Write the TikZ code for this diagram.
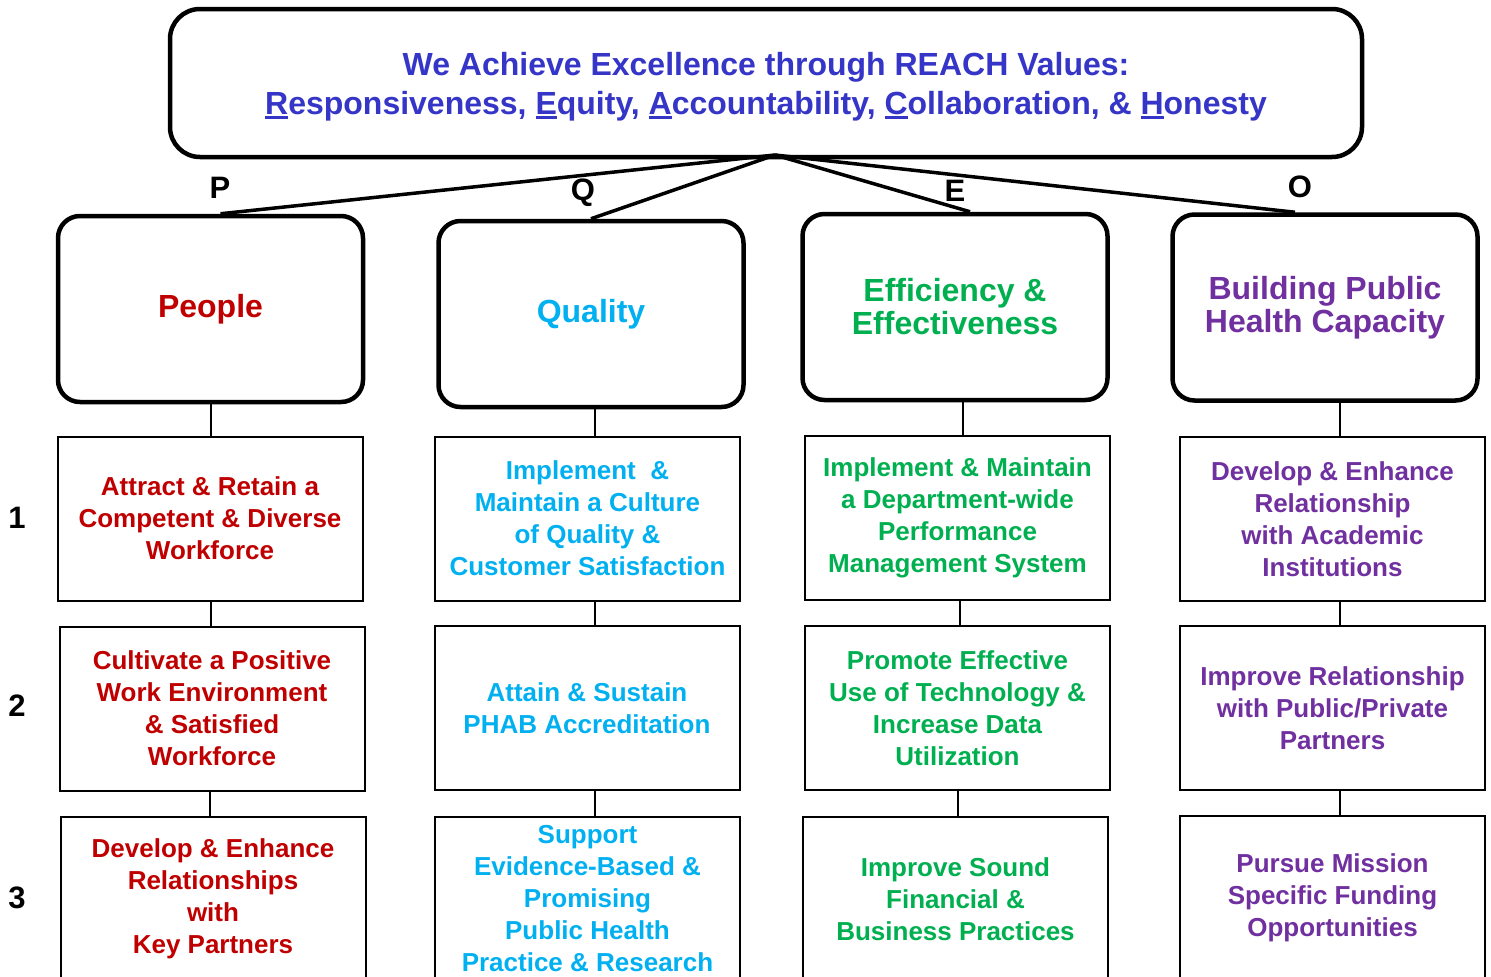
\documentclass[tikz,border=0pt]{standalone}
\usepackage{fontspec}
\setmainfont{Liberation Sans}
\definecolor{tblue}{HTML}{3535C8}
\definecolor{pred}{HTML}{C00000}
\definecolor{qcyan}{HTML}{00B0F0}
\definecolor{egreen}{HTML}{00B050}
\definecolor{opurple}{HTML}{7030A0}
\newcommand\myul[1]{\setbox0=\hbox{#1}\rlap{\rule[-4pt]{\wd0}{3pt}}\box0}
\begin{document}
\begin{tikzpicture}[x=1pt,y=-1pt,
  topbox/.style={draw, line width=4.5pt, rounded corners=30pt, minimum width=1192, minimum height=148},
  titletext/.style={font=\bfseries\fontsize{32}{39}\selectfont, text=tblue, align=center, inner sep=0pt},
  headbox/.style={draw, line width=4.5pt, rounded corners=22pt, minimum width=305, minimum height=186,
    font=\bfseries\fontsize{32}{33}\selectfont, align=center},
  goalbox/.style={draw, line width=2pt, minimum width=305, minimum height=164,
    font=\bfseries\fontsize{26}{32}\selectfont, align=center, inner sep=2pt},
  lbl/.style={font=\bfseries\fontsize{31}{31}\selectfont, inner sep=0pt},
  conn/.style={line width=3.5pt},
  vconn/.style={line width=2pt}
]
\useasboundingbox (0,0) rectangle (1491,977);
\fill[white] (0,0) rectangle (1491,977);

% top box
\node[topbox] (top) at (766,83) {};
\node[titletext] (title) at (766,87) {We Achieve Excellence through REACH Values:\\
\myul{R}esponsiveness, \myul{E}quity, \myul{A}ccountability, \myul{C}ollaboration, \& \myul{H}onesty};
\coordinate (apex) at (775,155);

% header boxes
\node[headbox, text=pred] (hP) at (210.5,309) {People};
\node[headbox, text=qcyan] (hQ) at (591,314) {Quality};
\node[headbox, text=egreen] (hE) at (955,307) {Efficiency \&\\Effectiveness};
\node[headbox, text=opurple] (hO) at (1325,307.5) {Building Public\\Health Capacity};

% letter labels
\node[lbl] (lP) at (220,188) {P};
\node[lbl] (lQ) at (583,193) {Q};
\node[lbl] (lE) at (955,191) {E};
\node[lbl] (lO) at (1300,187) {O};

% connectors from top
\draw[conn] (apex) -- ([xshift=10pt]hP.north);
\draw[conn] (apex) -- (hQ.north);
\draw[conn] (apex) -- ([xshift=15pt]hE.north);
\draw[conn] (apex) -- ([xshift=-30pt]hO.north);

% row numbers
\node[lbl] (n1) at (17,518) {1};
\node[lbl] (n2) at (17,706) {2};
\node[lbl] (n3) at (17,898) {3};

% column P
\node[goalbox, text=pred] (p1) at (210,518.5) {Attract \& Retain a\\Competent \& Diverse\\Workforce};
\node[goalbox, text=pred] (p2) at (212,708.5) {Cultivate a Positive\\Work Environment\\\& Satisfied\\Workforce};
\node[goalbox, text=pred] (p3) at (213,899) {Develop \& Enhance\\Relationships\\with\\Key Partners};

% column Q
\node[goalbox, text=qcyan] (q1) at (587.5,518.5) {Implement \ \&\\Maintain a Culture\\of Quality \&\\Customer Satisfaction};
\node[goalbox, text=qcyan] (q2) at (587,708) {Attain \& Sustain\\PHAB Accreditation};
\node[goalbox, text=qcyan] (q3) at (587.5,899) {Support\\Evidence-Based \&\\Promising\\Public Health\\Practice \& Research};

% column E
\node[goalbox, text=egreen] (e1) at (957.5,518) {Implement \& Maintain\\a Department-wide\\Performance\\Management System};
\node[goalbox, text=egreen] (e2) at (957.5,708) {Promote Effective\\Use of Technology \&\\Increase Data\\Utilization};
\node[goalbox, text=egreen] (e3) at (955.5,899) {Improve Sound\\Financial \&\\Business Practices};

% column O
\node[goalbox, text=opurple] (o1) at (1332.5,519) {Develop \& Enhance\\Relationship\\with Academic\\Institutions};
\node[goalbox, text=opurple] (o2) at (1332.5,708) {Improve Relationship\\with Public/Private\\Partners};
\node[goalbox, text=opurple] (o3) at (1332.5,898) {Pursue Mission\\Specific Funding\\Opportunities};

% vertical connectors
\draw[vconn] ([xshift=0.5pt]hP.south) -- ([xshift=0.5pt]hP.south |- p1.north);
\draw[vconn] ([xshift=1pt]p1.south) -- ([xshift=1pt]p1.south |- p2.north);
\draw[vconn] ([xshift=-2pt]p2.south) -- ([xshift=-2pt]p2.south |- p3.north);
\draw[vconn] ([xshift=4pt]hQ.south) -- ([xshift=4pt]hQ.south |- q1.north);
\draw[vconn] ([xshift=7.5pt]q1.south) -- ([xshift=7.5pt]q1.south |- q2.north);
\draw[vconn] ([xshift=8pt]q2.south) -- ([xshift=8pt]q2.south |- q3.north);
\draw[vconn] ([xshift=8pt]hE.south) -- ([xshift=8pt]hE.south |- e1.north);
\draw[vconn] ([xshift=2.5pt]e1.south) -- ([xshift=2.5pt]e1.south |- e2.north);
\draw[vconn] ([xshift=0.5pt]e2.south) -- ([xshift=0.5pt]e2.south |- e3.north);
\draw[vconn] ([xshift=15pt]hO.south) -- ([xshift=15pt]hO.south |- o1.north);
\draw[vconn] ([xshift=7.5pt]o1.south) -- ([xshift=7.5pt]o1.south |- o2.north);
\draw[vconn] ([xshift=7.5pt]o2.south) -- ([xshift=7.5pt]o2.south |- o3.north);
\end{tikzpicture}
\end{document}
